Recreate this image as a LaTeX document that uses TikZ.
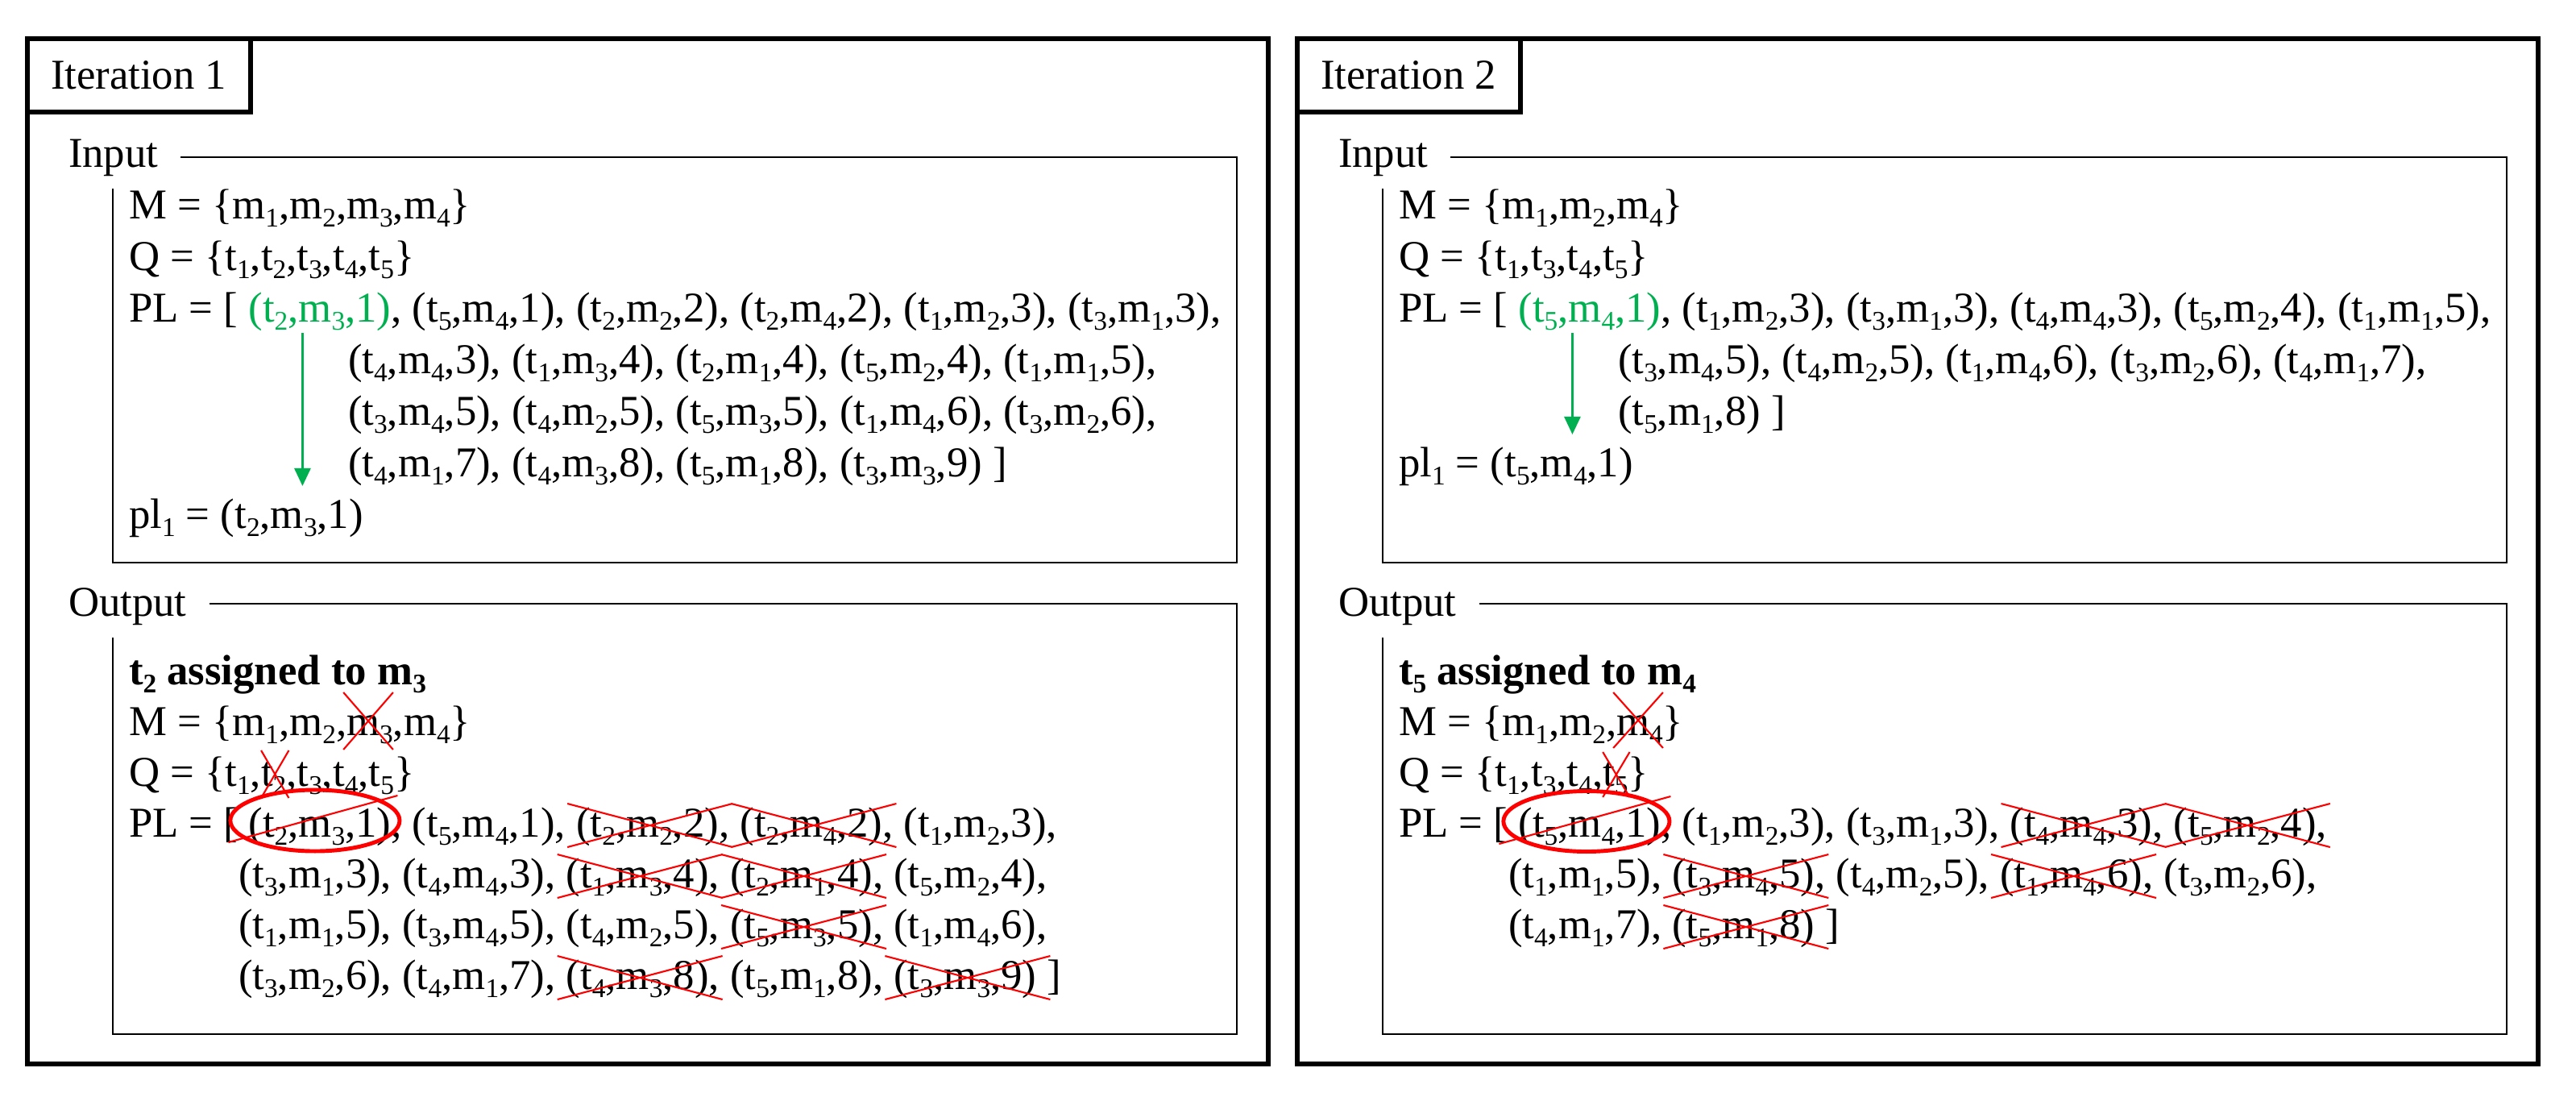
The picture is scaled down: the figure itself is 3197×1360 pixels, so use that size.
\documentclass[tikz,border=0pt]{standalone}
\usepackage{fontspec}
\setmainfont{Liberation Serif}
\usetikzlibrary{arrows.meta}
\definecolor{pgreen}{RGB}{0,176,80}
\newcommand\mysub[1]{\raisebox{-0.2em}{\fontsize{9.5pt}{10pt}\selectfont #1}}
\newcommand\bodyfont{\fontsize{15pt}{18pt}\selectfont}
\newcommand\rc{\rlap{,}}
\newcommand\mq[1]{m\mysub{#1}}
\newcommand\tq[1]{t\mysub{#1}}
\newcommand\itm[3]{(t\mysub{#1},m\mysub{#2},#3)}
\newcommand\crossit[1]{\draw[xline] ([shift={(-11,-41)}]#1.base west) -- ([shift={(17,13)}]#1.base east) ([shift={(-11,13)}]#1.base west) -- ([shift={(17,-41)}]#1.base east);}
\begin{document}
\begin{tikzpicture}[x=0.01cm,y=-0.01cm,
  frame/.style={line width=1.5pt},
  box/.style={line width=0.6pt},
  txt/.style={anchor=base west,inner sep=0pt,outer sep=0pt,font=\bodyfont},
  nx/.style={txt,xshift=7.5pt},
  firstit/.style={txt,xshift=3.75pt},
  xline/.style={red,line width=0.6pt},
  ring/.style={red,line width=1.4pt},
  garrow/.style={pgreen,line width=0.8pt,-{Triangle[length=0.22cm,width=0.2cm]}}]
\useasboundingbox (0,0) rectangle (3197,1360);
% ================= Iteration 1 =================
\begin{scope}[shift={(34,0)}]
\draw[frame] (0,48) rectangle (1540,1320);
\draw[frame] (0,48) rectangle (277,139);
\node[txt] (it1) at (29,110) {Iteration 1};
% Input
\node[txt] (in1) at (51,207) {Input};
\draw[box] (190,195) -- (1501,195) -- (1501,698) -- (106,698) -- (106,234);
\node[txt] (a1m) at (126,271) {M = \{\mq1,\mq2,\mq3,\mq4\}};
\node[txt] (a1q) at (126,335) {Q = \{\tq1,\tq2,\tq3,\tq4,\tq5\}};
\node[txt] (a1p) at (126,399) {PL = [};
\node[firstit,text=pgreen] (g1) at (a1p.base east) {\itm231};
\node[txt] (a1r) at (g1.base east) {, \itm541, \itm222, \itm242, \itm123, \itm313,};
\node[txt] (a1s) at (398,463) {\itm443, \itm134, \itm214, \itm524, \itm115,};
\node[txt] (a1t) at (398,527) {\itm345, \itm425, \itm535, \itm146, \itm326,};
\node[txt] (a1u) at (398,591) {\itm417, \itm438, \itm518, \itm339 ]};
\node[txt] (a1l) at (126,655) {pl\mysub1 = \itm231};
\coordinate (a1s0) at ([shift={(67,14)}]g1.base west);
\coordinate (a1e) at ([yshift=0.52cm]a1l.base);
\draw[garrow] (a1s0) -- (a1s0 |- a1e);
% Output
\node[txt] (out1) at (51,764) {Output};
\draw[box] (226,749) -- (1501,749) -- (1501,1283) -- (106,1283) -- (106,791);
\node[txt,font=\bodyfont\bfseries] (b1) at (126,849) {\tq2 assigned to \mq3};
\node[txt] (b1ma) at (126,912) {M = \{\mq1,\mq2,};
\node[txt] (b1mx) at (b1ma.base east) {\mq3};
\node[txt] (b1mb) at (b1mx.base east) {,\mq4\}};
\node[txt] (b1qa) at (126,975) {Q = \{\tq1,};
\node[txt] (b1qx) at (b1qa.base east) {\tq2};
\node[txt] (b1qb) at (b1qx.base east) {,\tq3,\tq4,\tq5\}};
\node[txt] (b1p) at (126,1038) {PL = [};
\node[firstit] (c1) at (b1p.base east) {\itm231\rc};
\node[nx] (c2) at (c1.base east) {\itm541\rc};
\node[nx] (c3) at (c2.base east) {\itm222\rc};
\node[nx] (c4) at (c3.base east) {\itm242\rc};
\node[nx] (c5) at (c4.base east) {\itm123\rc};
\node[txt] (d1) at (262,1101) {\itm313\rc};
\node[nx] (d2) at (d1.base east) {\itm443\rc};
\node[nx] (d3) at (d2.base east) {\itm134\rc};
\node[nx] (d4) at (d3.base east) {\itm214\rc};
\node[nx] (d5) at (d4.base east) {\itm524\rc};
\node[txt] (e1) at (262,1164) {\itm115\rc};
\node[nx] (e2) at (e1.base east) {\itm345\rc};
\node[nx] (e3) at (e2.base east) {\itm425\rc};
\node[nx] (e4) at (e3.base east) {\itm535\rc};
\node[nx] (e5) at (e4.base east) {\itm146\rc};
\node[txt] (f1) at (262,1227) {\itm326\rc};
\node[nx] (f2) at (f1.base east) {\itm417\rc};
\node[nx] (f3) at (f2.base east) {\itm438\rc};
\node[nx] (f4) at (f3.base east) {\itm518\rc};
\node[nx] (f5) at (f4.base east) {\itm339\rlap{ ]}};
\draw[xline] ([shift={(-4,-53)}]b1mx.base west) -- ([shift={(0,18)}]b1mx.base east)
             ([shift={(-4,18)}]b1mx.base west) -- ([shift={(0,-53)}]b1mx.base east);
\draw[xline] ([shift={(0,-44)}]b1qx.base west) -- ([shift={(3,15)}]b1qx.base east)
             ([shift={(0,15)}]b1qx.base west) -- ([shift={(3,-44)}]b1qx.base east);
\draw[ring] ([shift={(-6,-20)}]c1.base) ellipse [x radius=1.05cm, y radius=0.38cm];
\draw[xline] ([shift={(-25,7)}]c1.base west) -- ([shift={(8,-51)}]c1.base east);
\crossit{c3}\crossit{c4}\crossit{d3}\crossit{d4}\crossit{e4}\crossit{f3}\crossit{f5}
\end{scope}
% ================= Iteration 2 =================
\begin{scope}[shift={(1610,0)}]
\draw[frame] (0,48) rectangle (1540,1320);
\draw[frame] (0,48) rectangle (277,139);
\node[txt] (it2) at (29,110) {Iteration 2};
% Input
\node[txt] (in2) at (51,207) {Input};
\draw[box] (190,195) -- (1501,195) -- (1501,698) -- (106,698) -- (106,234);
\node[txt] (a2m) at (126,271) {M = \{\mq1,\mq2,\mq4\}};
\node[txt] (a2q) at (126,335) {Q = \{\tq1,\tq3,\tq4,\tq5\}};
\node[txt] (a2p) at (126,399) {PL = [};
\node[firstit,text=pgreen] (g2) at (a2p.base east) {\itm541};
\node[txt] (a2r) at (g2.base east) {, \itm123, \itm313, \itm443, \itm524, \itm115,};
\node[txt] (a2s) at (398,463) {\itm345, \itm425, \itm146, \itm326, \itm417,};
\node[txt] (a2t) at (398,527) {\itm518 ]};
\node[txt] (a2l) at (126,591) {pl\mysub1 = \itm541};
\coordinate (a2s0) at ([shift={(67,14)}]g2.base west);
\coordinate (a2e) at ([yshift=0.52cm]a2l.base);
\draw[garrow] (a2s0) -- (a2s0 |- a2e);
% Output
\node[txt] (out2) at (51,764) {Output};
\draw[box] (226,749) -- (1501,749) -- (1501,1283) -- (106,1283) -- (106,791);
\node[txt,font=\bodyfont\bfseries] (b2) at (126,849) {\tq5 assigned to \mq4};
\node[txt] (b2ma) at (126,912) {M = \{\mq1,\mq2,};
\node[txt] (b2mx) at (b2ma.base east) {\mq4};
\node[txt] (b2mb) at (b2mx.base east) {\}};
\node[txt] (b2qa) at (126,975) {Q = \{\tq1,\tq3,\tq4,};
\node[txt] (b2qx) at (b2qa.base east) {\tq5};
\node[txt] (b2qb) at (b2qx.base east) {\}};
\node[txt] (b2p) at (126,1038) {PL = [};
\node[firstit] (k1) at (b2p.base east) {\itm541\rc};
\node[nx] (k2) at (k1.base east) {\itm123\rc};
\node[nx] (k3) at (k2.base east) {\itm313\rc};
\node[nx] (k4) at (k3.base east) {\itm443\rc};
\node[nx] (k5) at (k4.base east) {\itm524\rc};
\node[txt] (l1) at (262,1101) {\itm115\rc};
\node[nx] (l2) at (l1.base east) {\itm345\rc};
\node[nx] (l3) at (l2.base east) {\itm425\rc};
\node[nx] (l4) at (l3.base east) {\itm146\rc};
\node[nx] (l5) at (l4.base east) {\itm326\rc};
\node[txt] (o1) at (262,1164) {\itm417\rc};
\node[nx] (o2) at (o1.base east) {\itm518\rlap{ ]}};
\draw[xline] ([shift={(-4,-53)}]b2mx.base west) -- ([shift={(0,16)}]b2mx.base east)
             ([shift={(-4,16)}]b2mx.base west) -- ([shift={(0,-53)}]b2mx.base east);
\draw[xline] ([shift={(0,-42)}]b2qx.base west) -- ([shift={(2,14)}]b2qx.base east)
             ([shift={(0,14)}]b2qx.base west) -- ([shift={(2,-42)}]b2qx.base east);
\draw[ring] ([shift={(-4,-19)}]k1.base) ellipse [x radius=1.03cm, y radius=0.375cm];
\draw[xline] ([shift={(-24,9)}]k1.base west) -- ([shift={(12,-50)}]k1.base east);
\crossit{k4}\crossit{k5}\crossit{l2}\crossit{l4}\crossit{o2}
\end{scope}
\end{tikzpicture}
\end{document}
